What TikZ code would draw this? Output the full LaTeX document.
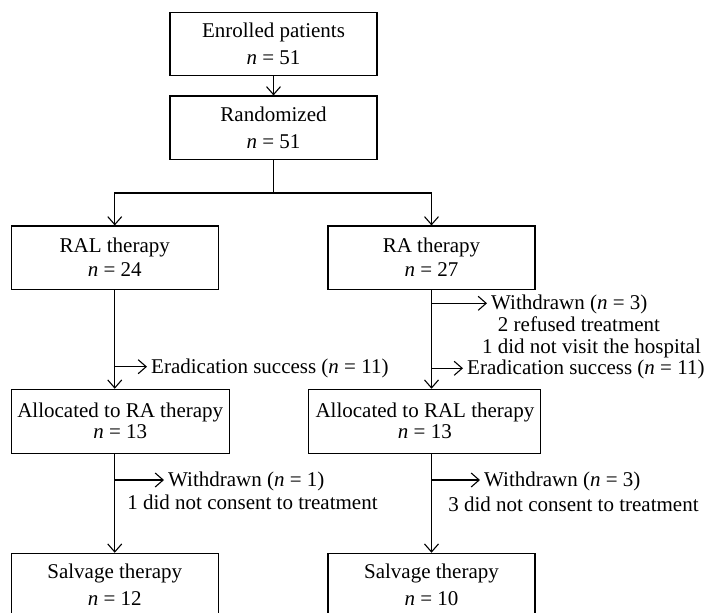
\documentclass[tikz,border=0pt]{standalone}
\usepackage{fontspec}
\setmainfont{Liberation Serif}
\usetikzlibrary{arrows.meta}
\begin{document}
\begin{tikzpicture}[x=1pt,y=-1pt,
  box/.style={draw, line width=1.1pt, inner sep=0pt, align=center, minimum width=207pt, minimum height=63.4pt, font=\fontsize{21}{27}\selectfont},
  lbl/.style={inner sep=0pt, font=\fontsize{21}{22}\selectfont},
  arr/.style={line width=1.1pt, -{Straight Barb[length=8pt,width=14pt]}},
  sarr/.style={arr, shorten >=4pt},
  ln/.style={line width=1.1pt}]
\useasboundingbox (0,0) rectangle (707,613);
\clip (0,0) rectangle (707,613);
% boxes
\node[box] (enr) at (273.5,44) {Enrolled patients\\\textit{n} = 51};
\node[box] (rand) at (273.5,127.7) {Randomized\\\textit{n} = 51};
\node[box, font=\fontsize{21}{24}\selectfont] (ral) at (114.75,257.7) {RAL therapy\\\textit{n} = 24};
\node[box, font=\fontsize{21}{24}\selectfont] (ra) at (431.5,257.7) {RA therapy\\\textit{n} = 27};
\node[box, minimum width=217.7pt, minimum height=64pt, font=\fontsize{21}{21}\selectfont] (alra) at (120.2,421.3) {Allocated to RA therapy\\\textit{n} = 13};
\node[box, minimum width=232pt, minimum height=64pt, font=\fontsize{21}{21}\selectfont] (alral) at (424.9,421.3) {Allocated to RAL therapy\\\textit{n} = 13};
\node[box] (sv1) at (114.75,585) {Salvage therapy\\\textit{n} = 12};
\node[box] (sv2) at (431.5,585) {Salvage therapy\\\textit{n} = 10};
% main connectors
\draw[arr] (enr) -- (rand);
\draw[ln] (rand.south) -- ++(0,33) coordinate (split);
\draw[arr] (split) -| (ral.north);
\draw[arr] (split) -| (ra.north);
\draw[arr] (ral.south) -- (ral.south |- alra.north);
\draw[arr] (ra.south) -- (ra.south |- alral.north);
\draw[arr] (sv1.north |- alra.south) -- (sv1.north);
\draw[arr] (sv2.north |- alral.south) -- (sv2.north);
% side labels, right column
\node[lbl, anchor=base west] (wdA) at (491,309.3) {Withdrawn (\textit{n} = 3)};
\node[lbl, anchor=base] (wdA2) at (579,331.5) {2 refused treatment};
\node[lbl, anchor=base] (wdA3) at (591.5,353) {1 did not visit the hospital};
\node[lbl, anchor=base west] (erB) at (467,374.5) {Eradication success (\textit{n} = 11)};
\node[lbl, anchor=base west] (wdC) at (484,486) {Withdrawn (\textit{n} = 3)};
\node[lbl, anchor=base] (wdC2) at (573.5,511) {3 did not consent to treatment};
% side labels, left column
\node[lbl, anchor=base west] (erA) at (151,373) {Eradication success (\textit{n} = 11)};
\node[lbl, anchor=base west] (wdB) at (168,486) {Withdrawn (\textit{n} = 1)};
\node[lbl, anchor=base] (wdB2) at (252.5,509) {1 did not consent to treatment};
% side arrows
\coordinate (pA) at (ra.south |- 0,303.3);
\coordinate (pB) at (ra.south |- 0,368.3);
\coordinate (pC) at (ra.south |- 0,480);
\coordinate (qA) at (ral.south |- 0,366.7);
\coordinate (qB) at (ral.south |- 0,480);
\draw[sarr] (pA) -- (pA -| wdA.west);
\draw[sarr] (pB) -- (pB -| erB.west);
\draw[sarr] (pC) -- (pC -| wdC.west);
\draw[sarr] (qA) -- (qA -| erA.west);
\draw[sarr] (qB) -- (qB -| wdB.west);
\end{tikzpicture}
\end{document}
